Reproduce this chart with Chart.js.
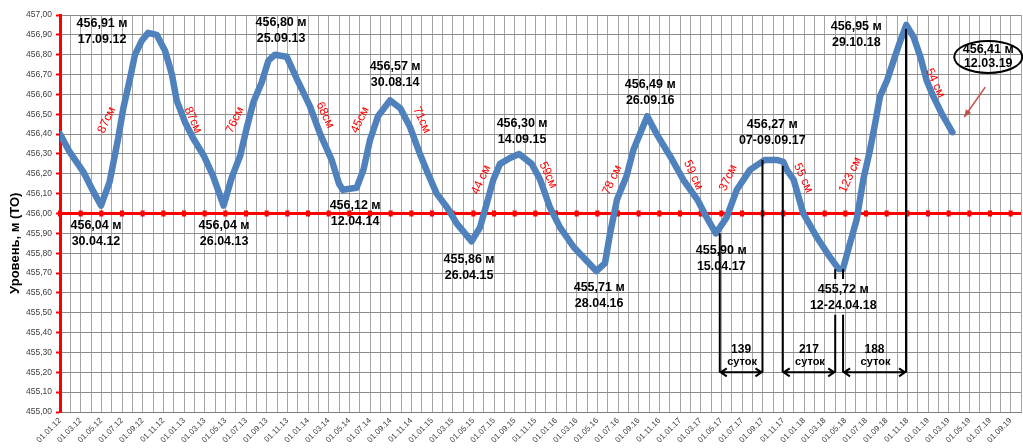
<!DOCTYPE html>
<html>
<head>
<meta charset="utf-8">
<script src="https://cdn.jsdelivr.net/npm/chart.js@4/dist/chart.umd.min.js"></script>
<style>
  html, body { margin: 0; padding: 0; background: #ffffff; }
  #wrap { width: 1023px; height: 448px; position: relative; }
</style>
</head>
<body>
<div id="wrap"><canvas id="c" width="1023" height="448"></canvas></div>
<script>
// Baikal water level, daily gauge readings (dd.mm.yy), metres in the Pacific datum (ТО)
const dates = [
  '01.01.12','30.01.12','09.03.12','08.04.12','30.04.12','26.05.12','20.06.12','05.07.12','25.07.12','09.08.12',
  '29.08.12','17.09.12','12.10.12','06.11.12','26.11.12','10.12.12','04.01.13','28.01.13','27.02.13','26.03.13',
  '26.04.13','20.05.13','14.06.13','03.07.13','23.07.13','17.08.13','06.09.13','25.09.13','30.10.13','28.11.13',
  '07.01.14','06.02.14','10.03.14','01.04.14','12.04.14','23.05.14','12.06.14','01.07.14','25.07.14','30.08.14',
  '29.09.14','27.10.14','26.11.14','20.12.14','15.01.15','14.02.15','13.03.15','26.04.15','21.05.15','10.06.15',
  '29.06.15','19.07.15','18.08.15','14.09.15','21.10.15','15.11.15','14.12.15','13.01.16','22.02.16','28.04.16',
  '24.05.16','08.06.16','28.06.16','27.07.16','16.08.16','26.09.16','24.10.16','02.12.16','11.01.17','20.02.17',
  '19.03.17','15.04.17','17.05.17','16.06.17','25.07.17','07.09.17','12.10.17','01.11.17','11.11.17','01.12.17',
  '30.12.17','08.02.18','17.03.18','12.04.18','24.04.18','10.05.18','04.06.18','23.06.18','13.07.18','28.07.18',
  '12.08.18','02.09.18','21.09.18','11.10.18','29.10.18','19.11.18','09.12.18','28.12.18','17.01.19','11.02.19',
  '12.03.19'
];
const levels = [
  456.40, 456.31, 456.21, 456.11, 456.04, 456.16, 456.38, 456.53, 456.68, 456.80,
  456.87, 456.91, 456.90, 456.82, 456.70, 456.57, 456.46, 456.38, 456.29, 456.19,
  456.04, 456.18, 456.29, 456.43, 456.56, 456.66, 456.77, 456.80, 456.79, 456.68,
  456.54, 456.40, 456.27, 456.15, 456.12, 456.13, 456.22, 456.37, 456.49, 456.57,
  456.53, 456.44, 456.30, 456.20, 456.10, 456.03, 455.95, 455.86, 455.93, 456.05,
  456.17, 456.25, 456.28, 456.30, 456.25, 456.17, 456.03, 455.93, 455.83, 455.71,
  455.75, 455.90, 456.07, 456.19, 456.32, 456.49, 456.40, 456.29, 456.17, 456.07,
  455.98, 455.90, 455.98, 456.12, 456.22, 456.27, 456.27, 456.26, 456.22, 456.17,
  456.00, 455.88, 455.78, 455.72, 455.72, 455.82, 455.97, 456.17, 456.32, 456.45,
  456.59, 456.67, 456.77, 456.87, 456.95, 456.89, 456.79, 456.67, 456.59, 456.50,
  456.41
];

// Axis range: level in metres, time in months counted from 01.01.12
const levelMin = 455.0, levelMax = 457.0, levelStep = 0.1;
const criticalLevel = 456.0;
const monthMax = 93;
const lastLabelMonth = 92;

// Extremes captions: [month, level, value text, date text]
const extremeCaptions = [
  [4.07, 456.955, '456,91 м', '17.09.12'],
  [3.48, 455.937, '456,04 м', '30.04.12'],
  [15.88, 455.937, '456,04 м', '26.04.13'],
  [21.39, 456.96, '456,80 м', '25.09.13'],
  [32.43, 456.738, '456,57 м', '30.08.14'],
  [28.56, 456.038, '456,12 м', '12.04.14'],
  [39.59, 455.766, '455,86 м', '26.04.15'],
  [44.72, 456.451, '456,30 м', '14.09.15'],
  [52.18, 455.625, '455,71 м', '28.04.16'],
  [57.12, 456.652, '456,49 м', '26.09.16'],
  [63.99, 455.811, '455,90 м', '15.04.17'],
  [68.93, 456.446, '456,27 м', '07-09.09.17'],
  [75.80, 455.615, '455,72 м', '12-24.04.18'],
  [77.06, 456.94, '456,95 м', '29.10.18']
];
// Latest reading, shown in an ellipse
const latestCaption = [89.83, 456.824, '456,41 м', '12.03.19'];

// Seasonal amplitude notes: [month, level, text, direction (+1 falling, -1 rising)]
const amplitudeNotes = [
  [4.52, 456.471, '87см', -1],
  [12.87, 456.471, '87см', 1],
  [16.94, 456.471, '76см', -1],
  [25.65, 456.496, '68см', 1],
  [29.04, 456.471, '45см', -1],
  [35.01, 456.471, '71см', 1],
  [40.76, 456.169, '44 см', -1],
  [47.24, 456.194, '59см', 1],
  [53.44, 456.169, '78 см', -1],
  [61.28, 456.194, '59 см', 1],
  [64.67, 456.179, '37см', -1],
  [71.93, 456.179, '55 см', 1],
  [76.48, 456.194, '123 см', -1],
  [84.70, 456.657, '54 см', 1]
];

// Marker lines for the interval counts: [month, segments as [from, to] levels]
const intervalLevel = 455.20;
const markerLines = [
  [63.85, [[455.90, 455.20]]],
  [67.98, [[456.27, 455.20]]],
  [69.94, [[456.24, 455.20]]],
  [75.02, [[455.72, 455.67], [455.49, 455.20]]],
  [75.78, [[455.72, 455.67], [455.49, 455.20]]],
  [81.87, [[456.93, 455.20]]]
];
// Interval arrows: [from month, to month, days text]
const intervals = [
  [63.85, 67.98, '139'],
  [69.94, 75.02, '217'],
  [75.78, 81.87, '188']
];

function monthIndex(s) {
  const [d, m, y] = s.split('.').map(Number);
  const year = 2000 + y;
  const dim = new Date(year, m, 0).getDate();
  return (year - 2012) * 12 + (m - 1) + (d - 1) / dim;
}
function monthLabel(m) {
  const yy = 12 + Math.floor(m / 12);
  const mm = (m % 12) + 1;
  return '01.' + String(mm).padStart(2, '0') + '.' + String(yy).padStart(2, '0');
}

const points = dates.map((d, i) => ({ x: monthIndex(d), y: levels[i] }));

const FONT = '"Liberation Sans", Arial, sans-serif';

const overlay = {
  id: 'overlay',
  beforeDatasetsDraw(chart) {
    const { ctx, scales: { x, y } } = chart;
    // small tick marks along the 456.00 line
    ctx.save();
    ctx.fillStyle = '#ff0000';
    const yc = y.getPixelForValue(criticalLevel);
    for (let m = 0; m <= lastLabelMonth; m += 2) {
      const px = x.getPixelForValue(m);
      ctx.fillRect(px - 2, yc - 3, 4, 6);
    }
    ctx.restore();
  },
  afterDatasetsDraw(chart) {
    const { ctx, scales: { x, y } } = chart;
    ctx.save();

    // interval marker lines
    ctx.strokeStyle = '#000000';
    ctx.lineWidth = 2;
    markerLines.forEach(([m, segs]) => {
      const px = x.getPixelForValue(m);
      segs.forEach(([a, b]) => {
        ctx.beginPath();
        ctx.moveTo(px, y.getPixelForValue(a));
        ctx.lineTo(px, y.getPixelForValue(b));
        ctx.stroke();
      });
    });

    // double arrows with day counts
    const ya = y.getPixelForValue(intervalLevel);
    intervals.forEach(([m1, m2, txt]) => {
      const x1 = x.getPixelForValue(m1) + 1, x2 = x.getPixelForValue(m2) - 1;
      ctx.beginPath();
      ctx.moveTo(x1, ya); ctx.lineTo(x2, ya);
      ctx.moveTo(x1 + 6, ya - 4); ctx.lineTo(x1, ya); ctx.lineTo(x1 + 6, ya + 4);
      ctx.moveTo(x2 - 6, ya - 4); ctx.lineTo(x2, ya); ctx.lineTo(x2 - 6, ya + 4);
      ctx.stroke();
      const cx = (x1 + x2) / 2;
      ctx.fillStyle = '#000000';
      ctx.textAlign = 'center';
      ctx.textBaseline = 'middle';
      ctx.font = 'bold 12px ' + FONT;
      ctx.fillText(txt, cx, ya - 23);
      ctx.font = 'bold 11px ' + FONT;
      ctx.fillText('суток', cx + 1, ya - 10);
    });

    // extremes captions
    ctx.fillStyle = '#000000';
    ctx.font = 'bold 12.5px ' + FONT;
    ctx.textAlign = 'center';
    ctx.textBaseline = 'middle';
    extremeCaptions.forEach(([m, v, t1, t2]) => {
      const px = x.getPixelForValue(m), py = y.getPixelForValue(v);
      ctx.fillText(t1, px, py);
      ctx.fillText(t2, px, py + 16);
    });

    // latest reading in an ellipse
    {
      const [m, v, t1, t2] = latestCaption;
      const px = x.getPixelForValue(m), py = y.getPixelForValue(v);
      ctx.fillText(t1, px, py);
      ctx.fillText(t2, px, py + 14);
      ctx.beginPath();
      ctx.ellipse(px, py + 7, 34, 16, 0, 0, Math.PI * 2);
      ctx.lineWidth = 2;
      ctx.stroke();
      // pointer arrow towards the end of the series
      const ax1 = x.getPixelForValue(89.54), ay1 = y.getPixelForValue(456.637);
      const ax2 = x.getPixelForValue(87.51), ay2 = y.getPixelForValue(456.486);
      ctx.strokeStyle = '#c0504d';
      ctx.fillStyle = '#c0504d';
      ctx.lineWidth = 1.5;
      ctx.beginPath(); ctx.moveTo(ax1, ay1); ctx.lineTo(ax2, ay2); ctx.stroke();
      const ang = Math.atan2(ay2 - ay1, ax2 - ax1);
      ctx.beginPath();
      ctx.moveTo(ax2, ay2);
      ctx.lineTo(ax2 - 8 * Math.cos(ang - 0.4), ay2 - 8 * Math.sin(ang - 0.4));
      ctx.lineTo(ax2 - 8 * Math.cos(ang + 0.4), ay2 - 8 * Math.sin(ang + 0.4));
      ctx.closePath();
      ctx.fill();
    }

    // amplitude notes
    ctx.fillStyle = '#ff0000';
    ctx.font = '12px ' + FONT;
    amplitudeNotes.forEach(([m, v, t, dir]) => {
      const px = x.getPixelForValue(m), py = y.getPixelForValue(v);
      ctx.save();
      ctx.translate(px, py);
      ctx.rotate(dir * 65 * Math.PI / 180);
      ctx.fillText(t, 0, 0);
      ctx.restore();
    });

    // vertical axis title
    ctx.save();
    ctx.fillStyle = '#000000';
    ctx.font = 'bold 13px ' + FONT;
    ctx.translate(15, y.getPixelForValue(455.85));
    ctx.rotate(-Math.PI / 2);
    ctx.fillText('Уровень, м (ТО)', 0, 0);
    ctx.restore();

    ctx.restore();
  }
};

new Chart(document.getElementById('c'), {
  type: 'line',
  data: {
    datasets: [{
      data: points,
      borderColor: '#4f81bd',
      backgroundColor: '#4f81bd',
      borderWidth: 6.5,
      borderJoinStyle: 'round',
      borderCapStyle: 'round',
      pointRadius: 0,
      tension: 0,
      fill: false
    }]
  },
  options: {
    responsive: false,
    animation: false,
    layout: { padding: { left: 0, right: 2, top: 15, bottom: 0 } },
    plugins: { legend: { display: false }, tooltip: { enabled: false } },
    scales: {
      x: {
        type: 'linear',
        min: 0,
        max: monthMax,
        afterFit(scale) {
          scale.height = 36;
          scale.paddingLeft = 0;
          scale.paddingRight = 0;
        },
        border: { display: true, color: '#808080', width: 1 },
        grid: { color: '#a6a6a6', lineWidth: 1, drawTicks: false },
        ticks: {
          stepSize: 1,
          autoSkip: false,
          maxTicksLimit: 200,
          minRotation: 45,
          maxRotation: 45,
          padding: 4,
          color: '#404040',
          font: { family: FONT, size: 8 },
          callback: (v) => (v % 2 === 0 && v <= lastLabelMonth) ? monthLabel(v) : ''
        }
      },
      y: {
        min: levelMin,
        max: levelMax,
        afterFit(scale) {
          scale.width = 60;
          scale.paddingTop = 0;
          scale.paddingBottom = 0;
        },
        border: { display: true, color: '#ff0000', width: 3 },
        grid: {
          color: (c) => (c.tick && Math.abs(c.tick.value - criticalLevel) < 1e-6) ? '#ff0000' : '#8c8c8c',
          lineWidth: (c) => (c.tick && Math.abs(c.tick.value - criticalLevel) < 1e-6) ? 3 : 1,
          tickColor: '#ff0000',
          tickLength: 4,
          tickWidth: 2
        },
        ticks: {
          stepSize: levelStep,
          padding: 4,
          color: '#404040',
          font: { family: FONT, size: 8.5 },
          callback: (v) => v.toFixed(2).replace('.', ',')
        }
      }
    }
  },
  plugins: [overlay]
});
</script>
</body>
</html>
